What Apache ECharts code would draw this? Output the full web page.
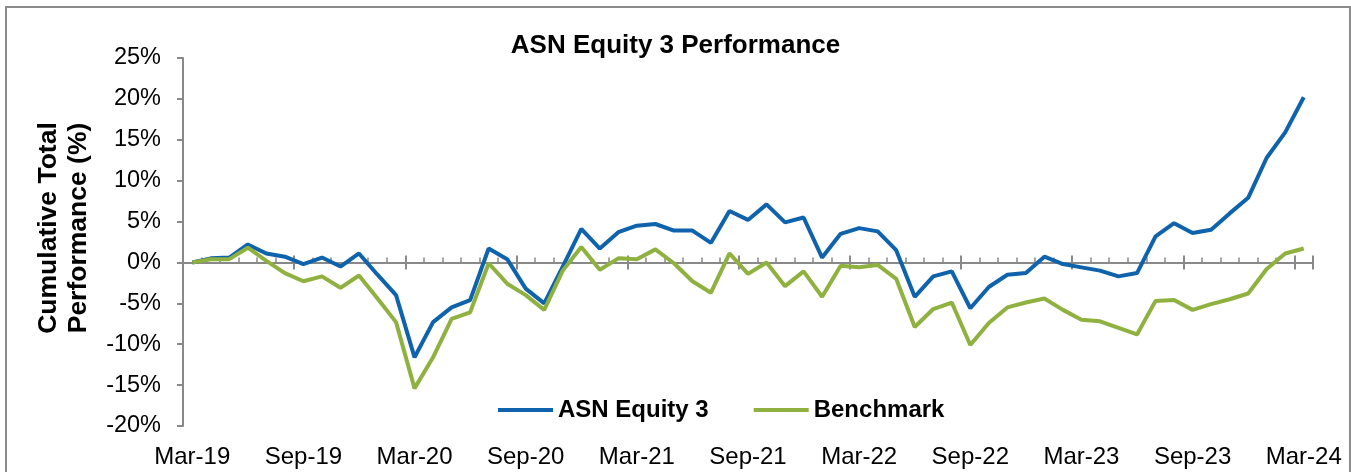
<!DOCTYPE html>
<html lang="en">
<head>
    <meta charset="UTF-8">
    <title>ASN Equity 3 Performance</title>
    <style>
      * { padding: 0; margin: 0; }
      body { background: #fff; }
    </style>
</head>
<body>
    <div id="main" style="width: 1351px;height:472px;"></div>
    <script src="https://cdn.jsdelivr.net/npm/echarts/dist/echarts.min.js"></script>
    <script>
        var months = [
            'Mar-19','Apr-19','May-19','Jun-19','Jul-19','Aug-19','Sep-19','Oct-19','Nov-19','Dec-19','Jan-20','Feb-20',
            'Mar-20','Apr-20','May-20','Jun-20','Jul-20','Aug-20','Sep-20','Oct-20','Nov-20','Dec-20','Jan-21','Feb-21',
            'Mar-21','Apr-21','May-21','Jun-21','Jul-21','Aug-21','Sep-21','Oct-21','Nov-21','Dec-21','Jan-22','Feb-22',
            'Mar-22','Apr-22','May-22','Jun-22','Jul-22','Aug-22','Sep-22','Oct-22','Nov-22','Dec-22','Jan-23','Feb-23',
            'Mar-23','Apr-23','May-23','Jun-23','Jul-23','Aug-23','Sep-23','Oct-23','Nov-23','Dec-23','Jan-24','Feb-24',
            'Mar-24'
        ];
        // cumulative total performance, %
        var asnEquity3 = [
            0, 0.5, 0.6, 2.2, 1.1, 0.7, -0.2, 0.6, -0.5, 1.1,
            -1.5, -4.0, -11.6, -7.3, -5.5, -4.6, 1.7, 0.4, -3.2, -5.0,
            -0.5, 4.1, 1.7, 3.7, 4.5, 4.7, 3.9, 3.9, 2.4, 6.3,
            5.2, 7.1, 4.9, 5.5, 0.6, 3.5, 4.2, 3.8, 1.5, -4.2,
            -1.7, -1.1, -5.6, -3.0, -1.5, -1.3, 0.7, -0.2, -0.6, -1.0,
            -1.7, -1.3, 3.2, 4.8, 3.6, 4.0, 6.0, 7.9, 12.8, 15.9, 20.2
        ];
        var benchmark = [
            0, 0.4, 0.4, 1.8, 0.2, -1.3, -2.3, -1.7, -3.1, -1.6,
            -4.4, -7.3, -15.4, -11.6, -6.9, -6.1, -0.1, -2.6, -4.0, -5.8,
            -1.0, 1.9, -0.9, 0.5, 0.4, 1.6, -0.1, -2.3, -3.7, 1.1,
            -1.4, 0.0, -2.9, -1.1, -4.2, -0.4, -0.6, -0.3, -2.0, -7.9,
            -5.7, -4.9, -10.1, -7.4, -5.5, -4.9, -4.4, -5.8, -7.0, -7.2,
            -8.0, -8.8, -4.7, -4.6, -5.8, -5.1, -4.5, -3.8, -0.8, 1.1, 1.7
        ];
        var yMin = -20, yMax = 25, yStep = 5;

        var font = '"Liberation Sans", Arial, sans-serif';
        var axisGrey = '#898989';

        option = {
            animation: false,
            backgroundColor: '#fff',
            textStyle: { fontFamily: font },
            title: {
                text: 'ASN Equity 3 Performance',
                left: 'center',
                top: 28,
                textStyle: { fontFamily: font, fontSize: 26, fontWeight: 'bold', color: '#000' }
            },
            legend: {
                left: 498,
                top: 398,
                padding: 0,
                icon: 'rect',
                itemWidth: 55,
                itemHeight: 4,
                itemGap: 45,
                textStyle: { fontFamily: font, fontSize: 24, fontWeight: 'bold', color: '#000' },
                data: ['ASN Equity 3', 'Benchmark']
            },
            graphic: [{
                // outer frame of the chart
                type: 'rect',
                shape: { x: 6, y: 7, width: 1344, height: 500 },
                style: { fill: 'none', stroke: '#8c8c8c', lineWidth: 2 },
                silent: true
            }],
            grid: { left: 183, right: 38, top: 58, bottom: 46, containLabel: false },
            xAxis: [
                {   // labels at the bottom
                    type: 'category',
                    data: months,
                    position: 'bottom',
                    axisLine: { show: false, onZero: false },
                    axisTick: { show: false },
                    axisLabel: { interval: 5, margin: 19, fontSize: 24, color: '#000', fontFamily: font }
                },
                {   // zero line with minor ticks
                    type: 'category',
                    data: months,
                    position: 'bottom',
                    axisLine: { show: true, onZero: true, onZeroAxisIndex: 0, lineStyle: { color: axisGrey, width: 2 } },
                    axisTick: { show: true, interval: 0, inside: true, length: 5, lineStyle: { color: axisGrey, width: 1.5 } },
                    axisLabel: { show: false }
                },
                {   // major ticks, upper half
                    type: 'category',
                    data: months,
                    position: 'bottom',
                    axisLine: { show: false, onZero: true, onZeroAxisIndex: 0 },
                    axisTick: { show: true, interval: 5, inside: true, length: 7, lineStyle: { color: axisGrey, width: 2 } },
                    axisLabel: { show: false }
                },
                {   // major ticks, lower half
                    type: 'category',
                    data: months,
                    position: 'bottom',
                    axisLine: { show: false, onZero: true, onZeroAxisIndex: 0 },
                    axisTick: { show: true, interval: 5, inside: false, length: 7, lineStyle: { color: axisGrey, width: 2 } },
                    axisLabel: { show: false }
                }
            ],
            yAxis: {
                type: 'value',
                min: yMin,
                max: yMax,
                interval: yStep,
                name: 'Cumulative Total\nPerformance (%)',
                nameLocation: 'middle',
                nameRotate: 90,
                nameGap: 89,
                nameTextStyle: {
                    fontFamily: font, fontSize: 26.5, fontWeight: 'bold', color: '#000',
                    lineHeight: 30, padding: [0, 0, 0, 28]
                },
                axisLine: { show: true, lineStyle: { color: axisGrey, width: 2 } },
                axisTick: { show: true, length: 6, lineStyle: { color: axisGrey, width: 2 } },
                splitLine: { show: false },
                axisLabel: {
                    formatter: '{value}%',
                    margin: 22,
                    fontSize: 23.5,
                    color: '#000',
                    fontFamily: font
                }
            },
            series: [
                {
                    name: 'ASN Equity 3',
                    type: 'line',
                    data: asnEquity3,
                    symbol: 'none',
                    color: '#0F62AC',
                    lineStyle: { width: 4, color: '#0F62AC' }
                },
                {
                    name: 'Benchmark',
                    type: 'line',
                    data: benchmark,
                    symbol: 'none',
                    color: '#8FB13F',
                    lineStyle: { width: 4, color: '#8FB13F' }
                }
            ]
        };

        var myChart = echarts.init(document.getElementById('main'));
        myChart.setOption(option);
    </script>
</body>
</html>
